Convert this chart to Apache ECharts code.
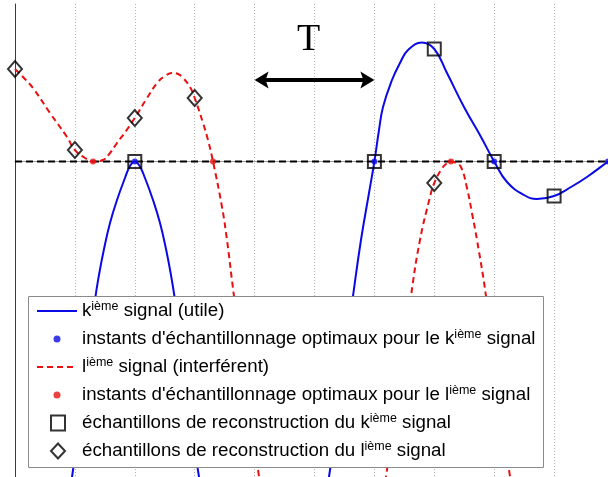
<!DOCTYPE html>
<html>
<head>
<meta charset="utf-8">
<script src="https://cdn.jsdelivr.net/npm/echarts@6/dist/echarts.min.js"></script>
<style>html,body{margin:0;padding:0;background:#fff}#c{width:608px;height:477px}</style>
</head>
<body>
<div id="c"></div>
<script>
// k-th signal (useful): [t (in grid steps), amplitude]
const kSignal = [[0,-6.385],[0.5,-4.985],[0.952,-3.155],[1.152,-2.285],[1.336,-1.385],[1.402,-1.135],[1.486,-0.875],[1.586,-0.615],[1.703,-0.385],[1.836,-0.165],[1.92,-0.045],[2,0],[2.08,-0.045],[2.17,-0.165],[2.304,-0.385],[2.421,-0.615],[2.521,-0.875],[2.604,-1.135],[2.671,-1.385],[2.855,-2.185],[3.072,-3.155],[3.589,-4.885],[4.157,-5.585],[4.758,-4.885],[5.242,-3.155],[5.442,-2.235],[5.643,-1.345],[5.776,-0.785],[5.91,-0.315],[6,0],[6.077,0.315],[6.144,0.545],[6.294,0.815],[6.427,0.985],[6.561,1.115],[6.795,1.19],[7,1.125],[7.212,0.885],[7.496,0.545],[7.78,0.245],[8,0],[8.214,-0.205],[8.497,-0.335],[8.715,-0.375],[9,-0.345],[9.282,-0.255],[9.549,-0.155],[9.9,0],[10,0.045]];
// l-th signal (interfering)
const lSignal = [[0,0.925],[0.15,0.835],[0.3,0.735],[0.584,0.485],[0.868,0.245],[1,0.115],[1.169,0.035],[1.302,0],[1.469,0.015],[1.586,0.085],[1.703,0.185],[1.853,0.305],[2,0.435],[2.204,0.635],[2.387,0.795],[2.504,0.855],[2.621,0.885],[2.721,0.875],[2.805,0.835],[2.922,0.745],[3,0.635],[3.139,0.385],[3.222,0.215],[3.306,0],[3.456,-0.455],[3.539,-0.785],[3.656,-1.345],[4.057,-3.085],[4.591,-4.885],[5.125,-5.385],[5.676,-4.885],[6.21,-3.085],[6.611,-1.345],[6.761,-0.785],[6.928,-0.355],[7,-0.215],[7.112,-0.085],[7.195,-0.025],[7.279,0],[7.362,-0.015],[7.446,-0.055],[7.546,-0.265],[7.629,-0.515],[7.713,-0.785],[7.863,-1.345],[8.247,-3.085],[9.098,-5.885],[10,-6.885]];
// optimal sampling instants
const kOptimal = [[2,0],[6,0],[8,0],[9.9,0]];
const lOptimal = [[1.302,0],[3.306,0],[7.279,0]];
// reconstruction samples
const kSamples = [[2,0],[6,0],[7,1.125],[8,0],[9,-0.345]];
const lSamples = [[0,0.925],[1,0.115],[2,0.435],[3,0.635],[7,-0.215]];
// zero reference line and period arrow (from t=4 to t=6)
const zeroLine = [[0,0],[10,0]];
const periodArrow = [[4,0.815],[6,0.815]];
const periodLabelAt = [4.9,1.215];
const periodLabel = 'T';
// legend names
const names = [
  'k^ième signal (utile)',
  "instants d'échantillonnage optimaux pour le k^ième signal",
  'l^ième signal (interférent)',
  "instants d'échantillonnage optimaux pour le l^ième signal",
  'échantillons de reconstruction du k^ième signal',
  'échantillons de reconstruction du l^ième signal'
];

const BLUE = '#0a0ae6', RED = '#e81010';
const FONT = "'Liberation Sans', Arial, sans-serif";
const rich = { sup: { fontFamily: FONT, fontSize: 12.5, lineHeight: 8, verticalAlign: 'top', color: '#000' } };
const legendTextA = { fontFamily: FONT, fontSize: 18.7, color: '#000', lineHeight: 22, rich: rich };
const legendTextB = { fontFamily: FONT, fontSize: 18.7, color: '#000', lineHeight: 22, padding: [0, 0, 0, 12], rich: rich };
const fmt = n => n.replace('^ième', '{sup|ième}');
const hollow = { color: 'rgba(0,0,0,0)', borderColor: '#000', borderWidth: 2 };

const chart = echarts.init(document.getElementById('c'), null, { renderer: 'canvas' });
chart.setOption({
  animation: false,
  backgroundColor: '#fff',
  grid: { left: 15, top: 4, right: 0, bottom: 0, containLabel: false },
  xAxis: {
    type: 'value', min: 0, max: 9.9, interval: 1, position: 'top',
    axisLine: { show: true, lineStyle: { color: '#9a9a9a', width: 1 } },
    axisTick: { show: false }, axisLabel: { show: false },
    splitLine: { show: true, lineStyle: { color: '#b4b4b4', width: 1, type: [1, 2] } }
  },
  yAxis: {
    type: 'value', min: -3.155, max: 1.575,
    axisLine: { show: true, onZero: false, lineStyle: { color: '#3a3a3a', width: 1 } },
    axisTick: { show: false }, axisLabel: { show: false }, splitLine: { show: false }
  },
  legend: [
    {
      orient: 'vertical', left: 36, top: 300, padding: 0, itemGap: 6,
      itemWidth: 40, itemHeight: 7, selectedMode: false, z: 5,
      textStyle: legendTextA, formatter: fmt,
      data: [
        { name: names[0], itemStyle: { opacity: 0 } },
        { name: names[1] },
        { name: names[2], itemStyle: { opacity: 0 } },
        { name: names[3] }
      ]
    },
    {
      orient: 'vertical', left: 50, top: 412, padding: 0, itemGap: 6,
      itemWidth: 14, itemHeight: 15, selectedMode: false, z: 5,
      textStyle: legendTextB, formatter: fmt,
      data: [
        { name: names[4], itemStyle: hollow },
        { name: names[5], itemStyle: hollow }
      ]
    }
  ],
  series: [
    {
      name: 'zero', type: 'line', data: zeroLine, symbol: 'none', silent: true, z: 1,
      lineStyle: { color: '#000', width: 2, type: [7, 4] }
    },
    {
      name: names[0], type: 'line', data: kSignal, smooth: 0.45, symbol: 'none', showSymbol: false,
      color: BLUE, lineStyle: { color: BLUE, width: 2 }, z: 2
    },
    {
      name: names[2], type: 'line', data: lSignal, smooth: 0.45, symbol: 'none', showSymbol: false,
      color: RED, lineStyle: { color: RED, width: 2, type: [6, 4] }, z: 2
    },
    {
      name: names[1], type: 'scatter', data: kOptimal, symbol: 'circle', symbolSize: 6,
      itemStyle: { color: BLUE }, z: 2
    },
    {
      name: names[3], type: 'scatter', data: lOptimal, symbol: 'circle', symbolSize: 6,
      itemStyle: { color: RED }, z: 2
    },
    {
      name: names[4], type: 'scatter', data: kSamples, symbol: 'rect', symbolSize: 13,
      itemStyle: hollow, z: 2
    },
    {
      name: names[5], type: 'scatter', data: lSamples, symbol: 'diamond', symbolSize: [14, 16],
      itemStyle: hollow, z: 2
    }
  ]
});

// annotations placed through the chart's own coordinate conversion
const pL = chart.convertToPixel({ gridIndex: 0 }, periodArrow[0]);
const pR = chart.convertToPixel({ gridIndex: 0 }, periodArrow[1]);
const pT = chart.convertToPixel({ gridIndex: 0 }, periodLabelAt);
const y = Math.round(pL[1]);
const headLen = 14, headHalf = 8.5, notch = 11;
chart.setOption({
  graphic: [
    { type: 'rect', z: 3, silent: true,
      shape: { x: 28.5, y: 296.5, width: 515, height: 171 },
      style: { fill: '#fff', stroke: '#8a8a8a', lineWidth: 1 } },
    { type: 'text', z: 6, silent: true, x: pT[0], y: pT[1],
      style: { text: periodLabel, font: "38px 'Liberation Serif', 'Times New Roman', serif",
               fill: '#000', align: 'center', verticalAlign: 'middle',
               textAlign: 'center', textVerticalAlign: 'middle' } },
    { type: 'line', z: 6, silent: true,
      shape: { x1: pL[0] + notch - 1, y1: y, x2: pR[0] - notch + 1, y2: y },
      style: { stroke: '#000', lineWidth: 4 } },
    { type: 'polygon', z: 6, silent: true,
      shape: { points: [[pL[0], y], [pL[0] + headLen, y - headHalf], [pL[0] + notch, y], [pL[0] + headLen, y + headHalf]] },
      style: { fill: '#000' } },
    { type: 'polygon', z: 6, silent: true,
      shape: { points: [[pR[0], y], [pR[0] - headLen, y - headHalf], [pR[0] - notch, y], [pR[0] - headLen, y + headHalf]] },
      style: { fill: '#000' } }
  ]
});
</script>
</body>
</html>
